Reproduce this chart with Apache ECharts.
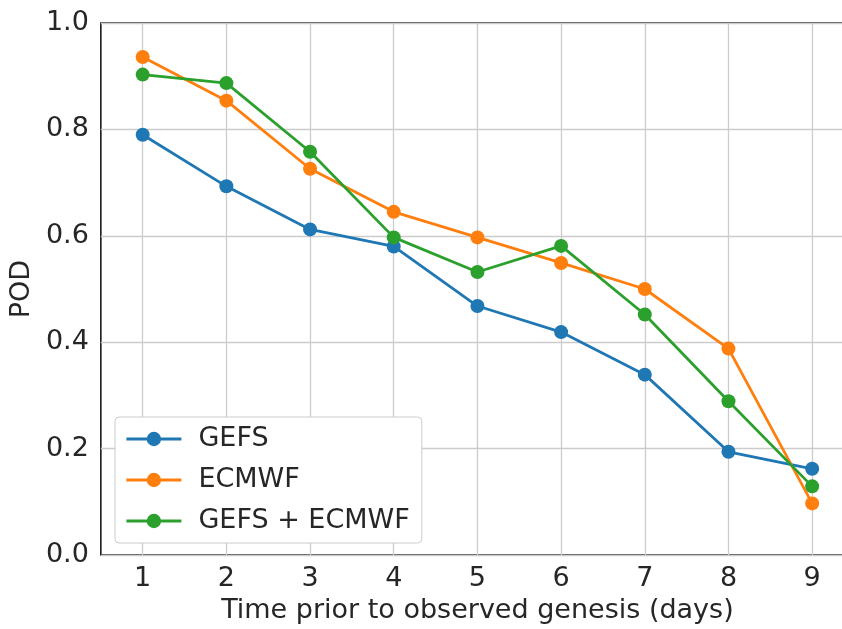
<!DOCTYPE html>
<html>
<head>
<meta charset="utf-8">
<title>POD</title>
<script src="https://cdn.jsdelivr.net/npm/echarts@6/dist/echarts.min.js"></script>
<style>
  html, body { margin: 0; padding: 0; background: #fff; overflow: hidden; }
  #main { width: 858px; height: 629px; }
</style>
</head>
<body>
<div id="main"></div>
<script>
  // 数据
  var days = [1, 2, 3, 4, 5, 6, 7, 8, 9];
  var gefs = [0.790, 0.693, 0.612, 0.580, 0.468, 0.419, 0.339, 0.194, 0.162];
  var ecmwf = [0.936, 0.854, 0.726, 0.645, 0.597, 0.549, 0.500, 0.388, 0.097];
  var combined = [0.903, 0.887, 0.758, 0.597, 0.532, 0.581, 0.452, 0.289, 0.129];
  var names = ['GEFS', 'ECMWF', 'GEFS + ECMWF'];
  var colors = ['#1f77b4', '#ff7f0e', '#2ca02c'];

  function pairs(vals) {
    return vals.map(function (v, i) { return [days[i], v]; });
  }

  var font = 'DejaVu Sans';
  var txt = '#262626';

  // 图表比窗口略宽，右边框落在画面外（与原图一致）
  var myChart = echarts.init(document.getElementById('main'));

  var option = {
    animation: false,
    color: colors,
    grid: {
      left: 100,
      top: 23,
      right: 4,
      bottom: 72,
      show: true,
      borderColor: '#1a1a1a',
      borderWidth: 1.6,
      backgroundColor: 'transparent'
    },
    legend: {
      orient: 'vertical',
      left: 115,
      top: 417,
      padding: [8, 12, 8, 10],
      itemGap: 13,
      itemWidth: 55,
      itemHeight: 18,
      lineStyle: { width: 2.8 },
      backgroundColor: '#fff',
      borderColor: '#cccccc',
      borderWidth: 1,
      borderRadius: 4,
      textStyle: { fontFamily: font, fontSize: 27, lineHeight: 28, color: txt, padding: [0, 0, 0, 12] },
      data: names
    },
    xAxis: {
      type: 'value',
      min: 0.5,
      max: 9.5,
      name: 'Time prior to observed genesis (days)',
      nameLocation: 'middle',
      nameGap: 42,
      nameTextStyle: { fontFamily: font, fontSize: 27, color: txt },
      axisLine: { show: false },
      axisTick: { show: false, customValues: days },
      axisLabel: {
        fontFamily: font, fontSize: 27, color: txt, margin: 10,
        customValues: days
      },
      splitLine: { show: true, lineStyle: { color: '#cccccc', width: 1.3 } }
    },
    yAxis: {
      type: 'value',
      min: 0,
      max: 1,
      interval: 0.2,
      name: 'POD',
      nameLocation: 'middle',
      nameGap: 64,
      nameTextStyle: { fontFamily: font, fontSize: 27, color: txt },
      axisLine: { show: false },
      axisTick: { show: false },
      axisLabel: {
        fontFamily: font, fontSize: 27, color: txt, margin: 12,
        formatter: function (v) { return v.toFixed(1); }
      },
      splitLine: { show: true, lineStyle: { color: '#cccccc', width: 1.3 } }
    },
    series: [
      { name: names[0], type: 'line', data: pairs(gefs) },
      { name: names[1], type: 'line', data: pairs(ecmwf) },
      { name: names[2], type: 'line', data: pairs(combined) }
    ].map(function (s, i) {
      s.symbol = 'circle';
      s.symbolSize = 14;
      s.lineStyle = { width: 2.8, color: colors[i] };
      s.itemStyle = { color: colors[i] };
      s.z = 3 + i;
      return s;
    })
  };

  myChart.setOption(option);
</script>
</body>
</html>
